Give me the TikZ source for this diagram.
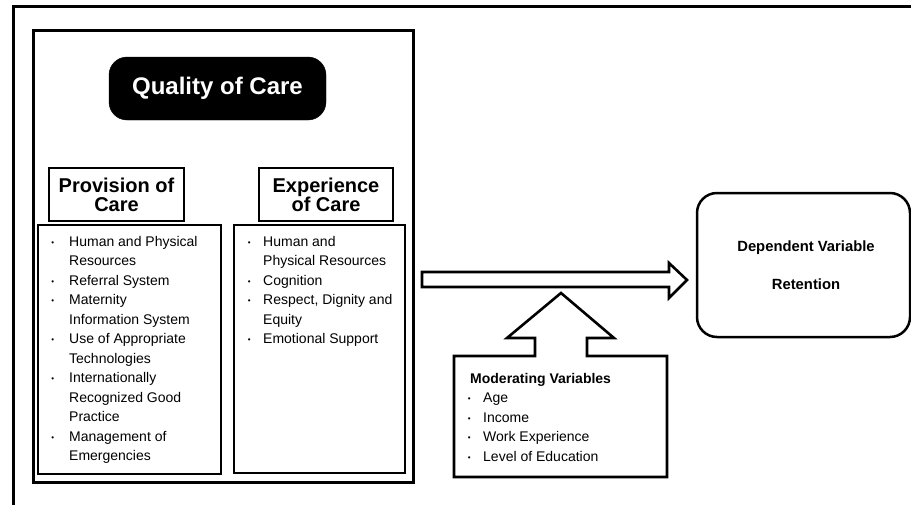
\documentclass[tikz,border=0pt]{standalone}
\usepackage{fontspec}
\setmainfont{Liberation Sans}
\newcommand{\bul}[1][12.6pt]{\llap{\raisebox{0.6pt}{\fontsize{8}{8}\selectfont •}\hspace{#1}}}
\begin{document}
\begin{tikzpicture}[x=1pt,y=-1pt,
  frame/.style={draw, line width=3pt},
  box/.style={draw, line width=2.7pt, outer sep=0pt, inner sep=0pt},
  head/.style={box, align=center, font=\fontsize{20}{19}\selectfont\bfseries},
  listtext/.style={anchor=base west, inner sep=0pt, font=\fontsize{14}{19.5}\selectfont},
  blockarrow/.style={draw, line width=2.6pt, line join=miter, fill=white}
]
\useasboundingbox (0,0) rectangle (911,504);
\clip (0,0) rectangle (911,504);
\fill[white] (0,0) rectangle (911,504);

% outer frame (extends past the picture edge)
\draw[frame] (13.5,6.5) rectangle (940,540);

% container of quality of care
\node[box, line width=3pt, minimum width=380pt, minimum height=452pt, anchor=north west] (cont) at (33,30) {};

% Quality of Care
\node[fill=black, draw=black, rounded corners=18pt, minimum width=217pt, minimum height=63pt,
      text=white, font=\fontsize{24}{24}\selectfont\bfseries, outer sep=0pt] (qoc) at (217.5,88.5) {Quality of Care};

% headers
\node[head, minimum width=135pt, minimum height=53pt] (prov) at (116.5,194.5) {Provision of\\Care};
\node[head, minimum width=134pt, minimum height=53pt] (exp) at (326,194.5) {Experience\\of Care};

% list boxes
\node[box, minimum width=183pt, minimum height=249pt] (provlist) at (129.5,349.5) {};
\node[box, minimum width=171pt, minimum height=248pt] (explist) at (319.5,349) {};

\node[listtext] (provtext) at (69,246) {\begin{tabular}[t]{@{}l@{}}
\bul[15pt]Human and Physical\\
Resources\\
\bul[15pt]Referral System\\
\bul[15pt]Maternity\\
Information System\\
\bul[15pt]Use of Appropriate\\
Technologies\\
\bul[15pt]Internationally\\
Recognized Good\\
Practice\\
\bul[15pt]Management of\\
Emergencies
\end{tabular}};

\node[listtext] (exptext) at (263,246) {\begin{tabular}[t]{@{}l@{}}
\bul Human and\\
Physical Resources\\
\bul Cognition\\
\bul Respect, Dignity and\\
Equity\\
\bul Emotional Support
\end{tabular}};

% dependent variable
\node[draw, line width=2.5pt, rounded corners=20pt, minimum width=213pt, minimum height=144pt,
      outer sep=0pt] (dep) at (803.5,265) {};
\node[align=center, font=\fontsize{14.8}{38}\selectfont\bfseries] (deptext) at (806,265) {Dependent Variable\\Retention};

% horizontal block arrow from container to dependent variable
\coordinate (hs) at (422,279.5);
\draw[blockarrow] (422,272) -- (669,272) -- (669,263) -- (687,280) -- (669,298) -- (669,287) -- (422,287) -- cycle;

% moderating variables box with upward arrow
\draw[blockarrow] (454,356) -- (535,356) -- (535,338) -- (507,338) -- (561,293) -- (614,338) -- (587,338)
  -- (587,356) -- (667,356) -- (667,477) -- (454,477) -- cycle;
\coordinate (mod) at (560.5,416.5);

\node[listtext] (modtext) at (470,383) {\begin{tabular}[t]{@{}l@{}}
\textbf{Moderating Variables}\\
\hspace*{13pt}\bul Age\\
\hspace*{13pt}\bul Income\\
\hspace*{13pt}\bul Work Experience\\
\hspace*{13pt}\bul Level of Education
\end{tabular}};
\end{tikzpicture}
\end{document}
